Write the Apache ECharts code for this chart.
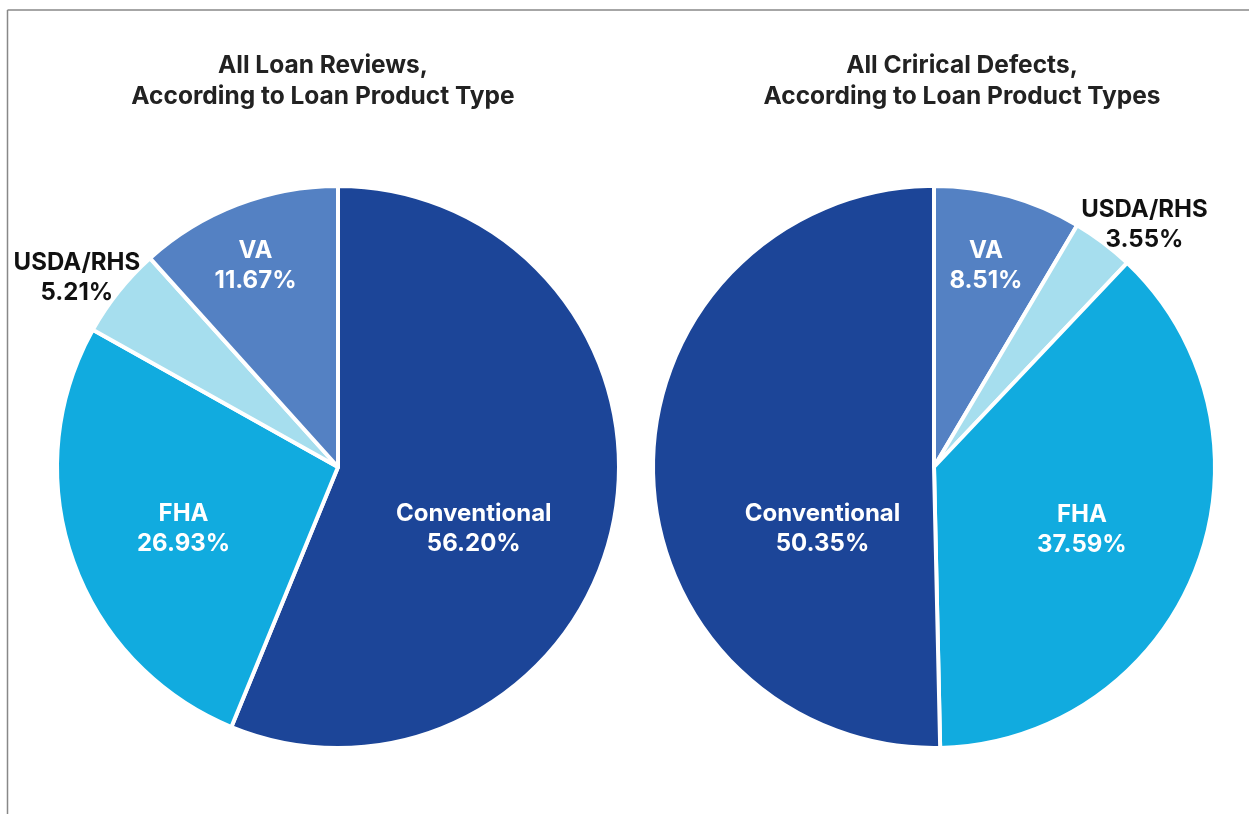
<!DOCTYPE html>
<html>
<head>
<meta charset="utf-8">
<script src="https://cdn.jsdelivr.net/npm/echarts@6/dist/echarts.min.js"></script>
<style>
html,body{margin:0;padding:0;background:#fff;}
#chart{width:1249px;height:814px;}
</style>
</head>
<body>
<div id="chart"></div>
<script>
// Data
const leftTitle = 'All Loan Reviews,\nAccording to Loan Product Type';
const rightTitle = 'All Crirical Defects,\nAccording to Loan Product Types';
const leftCategories = ['Conventional', 'FHA', 'USDA/RHS', 'VA'];
const leftValues = [56.20, 26.93, 5.21, 11.67];
const rightCategories = ['VA', 'USDA/RHS', 'FHA', 'Conventional'];
const rightValues = [8.51, 3.55, 37.59, 50.35];

const colorMap = {
  'Conventional': '#1c4598',
  'FHA': '#11abdf',
  'USDA/RHS': '#a6deee',
  'VA': '#5481c3'
};
const leftOffsets = {
  'Conventional': [-5, 34], 'FHA': [-19, 15], 'USDA/RHS': [-149, -100], 'VA': [-31, -67]
};
const rightOffsets = {
  'VA': [14, -63], 'USDA/RHS': [124, -128], 'FHA': [14, 11], 'Conventional': [32, 60]
};

function buildData(cats, vals, offsets) {
  return cats.map((c, i) => ({
    name: c,
    value: vals[i],
    itemStyle: { color: colorMap[c] },
    label: {
      offset: offsets[c],
      color: c === 'USDA/RHS' ? '#111' : '#fff'
    }
  }));
}

const labelCommon = {
  show: true,
  position: 'inside',
  fontFamily: 'Inter',
  fontWeight: 'bold',
  fontSize: 24,
  lineHeight: 30,
  align: 'center',
  formatter: p => p.name + '\n' + p.value.toFixed(2) + '%'
};
const titleStyle = { fontFamily: 'Inter', fontWeight: 'bold', fontSize: 24.5, lineHeight: 31, color: '#222' };

const chart = echarts.init(document.getElementById('chart'), null, { renderer: 'canvas' });
chart.setOption({
  animation: false,
  backgroundColor: '#fff',
  title: [
    { text: leftTitle, left: 318, top: 45, textAlign: 'center', textStyle: titleStyle },
    { text: rightTitle, left: 957, top: 45, textAlign: 'center', textStyle: titleStyle }
  ],
  graphic: [
    { type: 'line', shape: { x1: 7.5, y1: 10, x2: 1249, y2: 10 }, style: { stroke: '#888', lineWidth: 1.5 } },
    { type: 'line', shape: { x1: 7.5, y1: 10, x2: 7.5, y2: 814 }, style: { stroke: '#888', lineWidth: 1.5 } }
  ],
  series: [
    {
      type: 'pie',
      center: [338, 467],
      radius: [0, 281],
      startAngle: 90,
      clockwise: true,
      label: labelCommon,
      labelLine: { show: false },
      itemStyle: { borderColor: '#fff', borderWidth: 4 },
      emphasis: { disabled: true },
      data: buildData(leftCategories, leftValues, leftOffsets)
    },
    {
      type: 'pie',
      center: [934, 467],
      radius: [0, 281],
      startAngle: 90,
      clockwise: true,
      label: labelCommon,
      labelLine: { show: false },
      itemStyle: { borderColor: '#fff', borderWidth: 4 },
      emphasis: { disabled: true },
      data: buildData(rightCategories, rightValues, rightOffsets)
    }
  ]
});
</script>
</body>
</html>
